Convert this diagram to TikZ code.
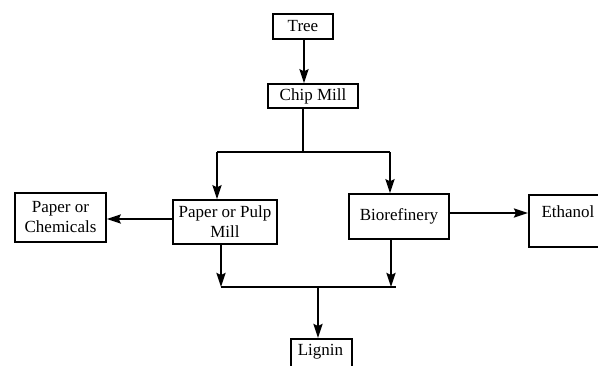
\documentclass[tikz,border=0pt]{standalone}
\usepackage{fontspec}
\setmainfont{Liberation Serif}
\usetikzlibrary{arrows.meta}
\begin{document}
\begin{tikzpicture}[x=1pt,y=-1pt,
  box/.style={draw,line width=1.5pt,inner sep=0pt,align=center,font=\fontsize{17}{20}\selectfont},
  arr/.style={line width=2.4pt,-{Stealth[length=14pt,width=9pt,inset=2pt]}},
  ln/.style={line width=1.5pt}]
\useasboundingbox (0,0) rectangle (598,365);
\clip (0,0) rectangle (598,365);
\fill[white] (0,0) rectangle (598,365);
\node[box,minimum width=60,minimum height=25] (tree) at (303,26.5) {Tree};
\node[box,minimum width=90,minimum height=24] (chip) at (313,96) {Chip Mill};
\node[box,minimum width=104,minimum height=44] (ppm) at (225,222) {Paper or Pulp\\Mill};
\node[box,minimum width=91,minimum height=49] (pc) at (60.5,217.5) {Paper or\\Chemicals};
\node[box,minimum width=100,minimum height=45] (bio) at (399,216.5) {Biorefinery};
\node[box,minimum width=80,minimum height=52,anchor=north west] (eth) at (528,194) {};
\node[font=\fontsize{17}{20}\selectfont,inner sep=0pt] (ethtxt) at (568,212) {Ethanol};
\node[box,minimum width=61,minimum height=32,anchor=north] (lig) at (321.5,338) {};
\node[font=\fontsize{17}{20}\selectfont,inner sep=0pt] (ligtxt) at (320.5,352) {Lignin};
\coordinate (split) at (303,152);
\coordinate (sl) at (217,152);
\coordinate (sr) at (390,152);
\coordinate (jl) at (221,287);
\coordinate (jr) at (396,287);
\coordinate (jm) at (318,287);
\coordinate (jb) at (391,287);
\draw[arr] (tree.south -| 304,0) -- (chip.north -| 304,0);
\draw[ln] (chip.south -| split) -- (split);
\draw[ln] (sl) -- (sr);
\draw[arr] (sl) -- (sl |- ppm.north);
\draw[arr] (sr) -- (sr |- bio.north);
\draw[arr] (ppm.west |- 0,219) -- (pc.east |- 0,219);
\draw[arr] (bio.east |- 0,213) -- (eth.west |- 0,213);
\draw[arr] (jl |- ppm.south) -- (jl);
\draw[arr] (jb |- bio.south) -- (jb);
\draw[ln] (jl) -- (jr);
\draw[arr] (jm) -- (jm |- lig.north);
\end{tikzpicture}
\end{document}
